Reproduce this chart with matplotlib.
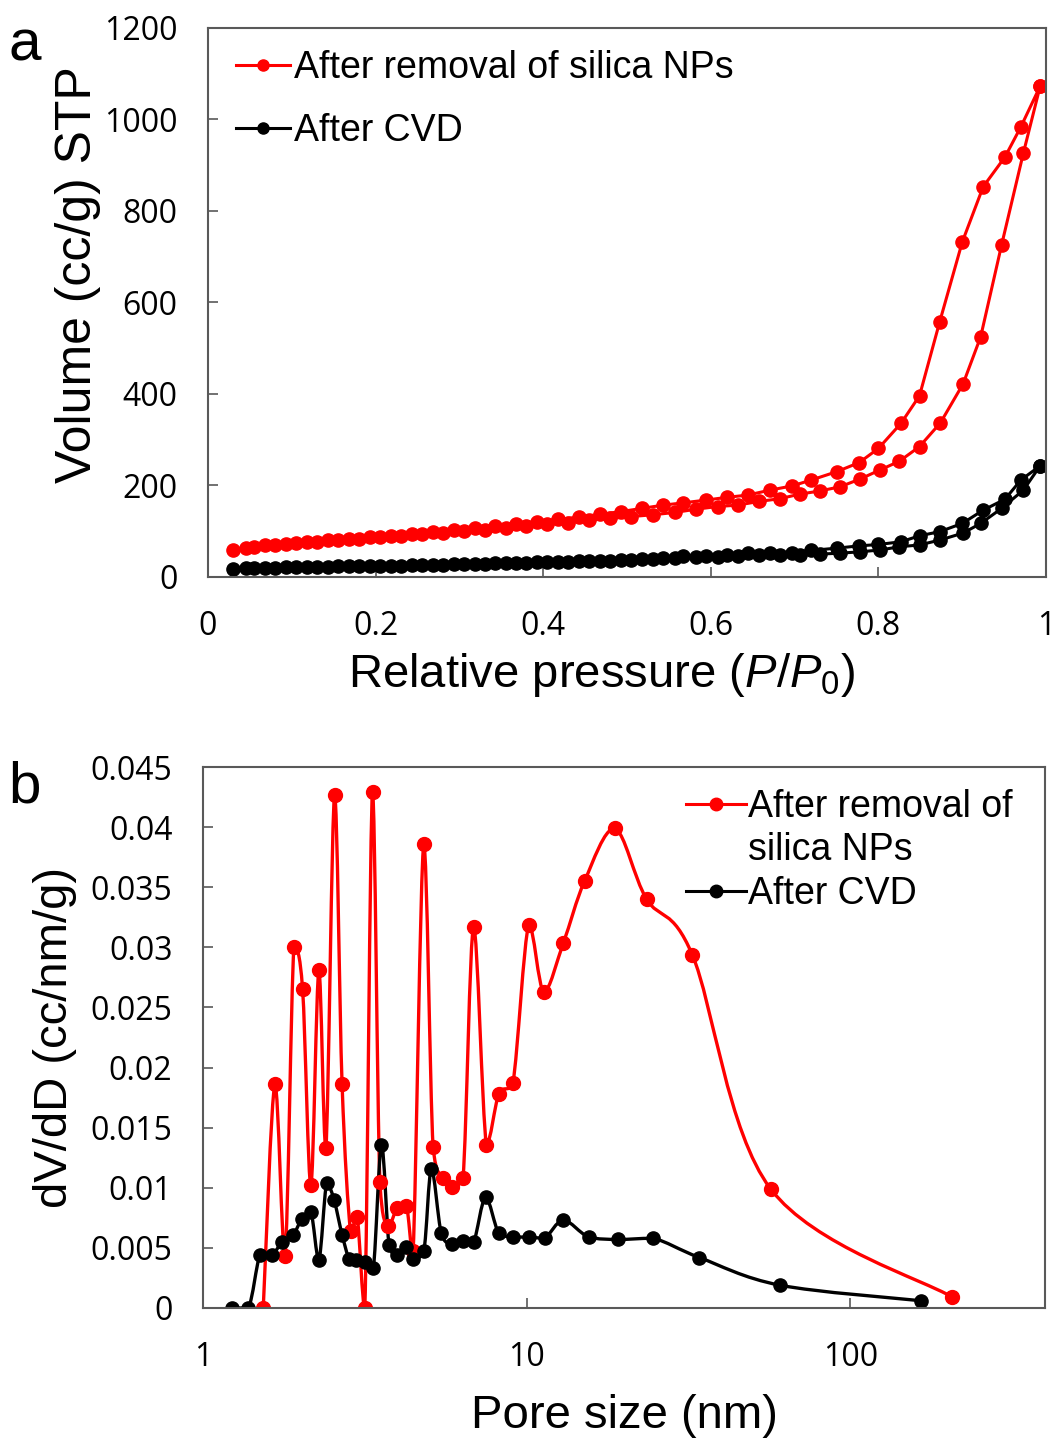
import numpy as np
import matplotlib
matplotlib.use("Agg")
import matplotlib.pyplot as plt
from matplotlib.path import Path
from matplotlib.patches import PathPatch
from matplotlib.lines import Line2D
from matplotlib.ticker import FixedLocator, NullLocator, FuncFormatter

plt.rcParams['font.family'] = ['Liberation Sans', 'DejaVu Sans']
plt.rcParams['mathtext.fontset'] = 'custom'
plt.rcParams['mathtext.rm'] = 'Liberation Sans'
plt.rcParams['mathtext.it'] = 'Liberation Sans:italic'

# --- panel a : N2 isotherms (P/P0, volume cc/g) ---
p_ads = [0.030, 0.055, 0.080, 0.105, 0.130, 0.155, 0.180, 0.205, 0.230, 0.255,
         0.280, 0.305, 0.330, 0.355, 0.380, 0.405, 0.430, 0.455, 0.480, 0.505,
         0.531, 0.557, 0.582, 0.608, 0.632, 0.657, 0.682, 0.706, 0.730, 0.754,
         0.778, 0.802, 0.825, 0.849, 0.874, 0.901, 0.922, 0.947, 0.973, 0.993]
p_des = [0.993, 0.970, 0.951, 0.925, 0.900, 0.873, 0.849, 0.827, 0.800, 0.777,
         0.750, 0.720, 0.697, 0.671, 0.644, 0.619, 0.594, 0.567, 0.543, 0.518,
         0.493, 0.468, 0.443, 0.418, 0.393, 0.368, 0.343, 0.318, 0.293, 0.268,
         0.243, 0.218, 0.193, 0.168, 0.143, 0.118, 0.093, 0.068, 0.045]

red_ads = [60, 66, 70, 74, 77, 80, 84, 87, 90, 93,
           96, 100, 103, 107, 111, 115, 119, 124, 128, 132,
           136, 141, 148, 154, 157, 165, 171, 181, 188, 197,
           214, 234, 253, 285, 337, 422, 525, 726, 927, 1073]
red_des = [1073, 984, 918, 853, 732, 557, 396, 336, 281, 250,
           230, 212, 199, 190, 179, 174, 168, 162, 157, 150,
           143, 137, 131, 126, 121, 116, 111, 106, 102, 98,
           94, 90, 87, 83, 80, 76, 73, 69, 64]
blk_ads = [18, 19, 20, 21, 22, 23, 23, 24, 25, 26,
           27, 28, 29, 30, 31, 32, 33, 34, 35, 37,
           39, 41, 43, 44, 46, 47, 48, 49, 50, 52,
           55, 59, 66, 70, 81, 96, 117, 150, 190, 243]
blk_des = [243, 212, 170, 146, 117, 99, 90, 77, 71, 68,
           63, 58, 53, 53, 52, 48, 46, 45, 42, 40,
           38, 36, 34, 33, 32, 31, 30, 29, 28, 27,
           26, 25, 24, 23, 22, 21, 21, 20, 19]

# --- panel b : pore size distribution ---
red_d = [1.535, 1.668, 1.791, 1.909, 2.031, 2.154, 2.28, 2.397, 2.55, 2.69,
         2.856, 2.995, 3.162, 3.34, 3.52, 3.74, 3.98, 4.25, 4.46, 4.81,
         5.14, 5.52, 5.88, 6.36, 6.86, 7.51, 8.21, 9.07, 10.16, 11.31,
         13.0, 15.1, 18.7, 23.5, 32.5, 56.8, 207]
red_v = [0, 0.0186, 0.0043, 0.0300, 0.0265, 0.0102, 0.0281, 0.0133, 0.0427, 0.0186,
         0.0064, 0.0076, 0, 0.0429, 0.0105, 0.0068, 0.0083, 0.0085, 0.0047, 0.0386,
         0.0134, 0.0108, 0.0101, 0.0108, 0.0317, 0.0136, 0.0178, 0.0187, 0.0319, 0.0263,
         0.0304, 0.0355, 0.0399, 0.0340, 0.0294, 0.0099, 0.0009]
blk_d = [1.226, 1.38, 1.50, 1.63, 1.76, 1.90, 2.02, 2.154, 2.28, 2.41,
         2.54, 2.69, 2.83, 2.98, 3.17, 3.36, 3.56, 3.76, 3.98, 4.25,
         4.46, 4.81, 5.08, 5.45, 5.88, 6.36, 6.86, 7.47, 8.21, 9.07,
         10.16, 11.36, 13.0, 15.57, 19.2, 24.6, 34.2, 60.6, 166]
blk_v = [0, 0, 0.0044, 0.0044, 0.0055, 0.0061, 0.0074, 0.0080, 0.0040, 0.0104,
         0.0090, 0.0061, 0.0041, 0.0040, 0.0038, 0.0033, 0.0136, 0.0052, 0.0044, 0.0051,
         0.0041, 0.0047, 0.0116, 0.0062, 0.0053, 0.0056, 0.0055, 0.0092, 0.0062, 0.0059,
         0.0059, 0.0058, 0.0073, 0.0059, 0.0057, 0.0058, 0.0042, 0.0019, 0.0006]

lab_red = 'After removal of silica NPs'
lab_blk = 'After CVD'
RED = '#ff0000'
BLK = '#000000'
SPINE = '#595959'
TICKFONT = 'Open Sans'


def smooth_line(ax, xs, ys, color, lw):
    # excel-like smoothed line: bezier through the points in log-x space,
    # control heights kept between the two end points so peaks don't overshoot
    lx = np.log10(xs)
    y = np.asarray(ys, dtype=float)
    n = len(xs)
    verts = [(xs[0], ys[0])]
    codes = [Path.MOVETO]
    for i in range(n - 1):
        i0 = max(i - 1, 0)
        i3 = min(i + 2, n - 1)
        lo, hi = min(y[i], y[i + 1]), max(y[i], y[i + 1])
        c1x = lx[i] + (lx[i + 1] - lx[i0]) / 6
        c1y = np.clip(y[i] + (y[i + 1] - y[i0]) / 6, lo, hi)
        c2x = lx[i + 1] - (lx[i3] - lx[i]) / 6
        c2y = np.clip(y[i + 1] - (y[i3] - y[i]) / 6, lo, hi)
        verts += [(10 ** c1x, c1y), (10 ** c2x, c2y), (xs[i + 1], ys[i + 1])]
        codes += [Path.CURVE4] * 3
    ax.add_patch(PathPatch(Path(verts, codes), fill=False, ec=color, lw=lw,
                           capstyle='round', joinstyle='round'))


def style_axes(ax):
    for s in ax.spines.values():
        s.set_color(SPINE)
        s.set_linewidth(1.5)
    ax.tick_params(direction='in', length=7, width=1.2, color=SPINE,
                   labelsize=23, top=False, right=False)
    ax.tick_params(axis='y', pad=22)
    ax.tick_params(axis='x', pad=24)
    for t in ax.get_xticklabels() + ax.get_yticklabels():
        t.set_fontfamily(TICKFONT)


fig = plt.figure(figsize=(10.58, 14.41), dpi=100)

# ---------------- panel a ----------------
ax1 = fig.add_axes([0.1966, 0.5996, 0.7921, 0.3810])
ax1.plot(p_ads + p_des, red_ads + red_des, '-o', color=RED, lw=2.2, ms=9.5)
ax1.plot(p_ads + p_des, blk_ads + blk_des, '-o', color=BLK, lw=2.2, ms=9.5)
ax1.set_xlim(0, 1)
ax1.set_ylim(0, 1200)
ax1.set_xticks([0, 0.2, 0.4, 0.6, 0.8, 1])
ax1.set_yticks([0, 200, 400, 600, 800, 1000, 1200])
fmt = FuncFormatter(lambda v, p: '%g' % v)
ax1.xaxis.set_major_formatter(fmt)
ax1.yaxis.set_major_formatter(fmt)
style_axes(ax1)
ax1.set_xlabel(r'Relative pressure ($\mathit{P/P_0}$)', fontsize=34, labelpad=6)
ax1.xaxis.set_label_coords(0.47, -0.135)
ax1.set_ylabel('Volume (cc/g) STP', fontsize=36)
ax1.yaxis.set_label_coords(-0.128, 0.55)
h1 = [Line2D([], [], color=RED, marker='o', lw=2.2, ms=8),
      Line2D([], [], color=BLK, marker='o', lw=2.2, ms=8)]
ax1.legend(h1, [lab_red, lab_blk], loc='upper left', bbox_to_anchor=(0.033, 0.96),
           frameon=False, fontsize=27, handlelength=1.45, handletextpad=0.1,
           labelspacing=0.72, borderpad=0, borderaxespad=0)

# ---------------- panel b ----------------
ax2 = fig.add_axes([0.1919, 0.0923, 0.7958, 0.3754])
ax2.set_xscale('log')
smooth_line(ax2, red_d, red_v, RED, 2.4)
ax2.plot(red_d, red_v, 'o', color=RED, ms=10)
smooth_line(ax2, blk_d, blk_v, BLK, 2.4)
ax2.plot(blk_d, blk_v, 'o', color=BLK, ms=9.5)
ax2.set_xlim(1, 400)
ax2.set_ylim(0, 0.045)
ax2.xaxis.set_major_locator(FixedLocator([1, 10, 100]))
ax2.xaxis.set_minor_locator(NullLocator())
ax2.xaxis.set_major_formatter(fmt)
ax2.set_yticks([0, 0.005, 0.01, 0.015, 0.02, 0.025, 0.03, 0.035, 0.04, 0.045])
ax2.yaxis.set_major_formatter(fmt)
style_axes(ax2)
ax2.set_xlabel('Pore size (nm)', fontsize=34, labelpad=14)
ax2.set_ylabel('dV/dD (cc/nm/g)', fontsize=34, labelpad=10)
h2 = [Line2D([], [], color=RED, marker='o', lw=2.2, ms=9),
      Line2D([], [], color='none'),
      Line2D([], [], color=BLK, marker='o', lw=2.2, ms=9)]
ax2.legend(h2, ['After removal of', 'silica NPs', lab_blk], loc='upper left',
           bbox_to_anchor=(0.574, 0.96), frameon=False, fontsize=27,
           handlelength=1.6, handletextpad=0.05, labelspacing=0.2,
           borderpad=0, borderaxespad=0)

fig.text(0.008, 0.958, 'a', fontsize=42)
fig.text(0.008, 0.443, 'b', fontsize=42)

fig.savefig('out.png', dpi=100)
